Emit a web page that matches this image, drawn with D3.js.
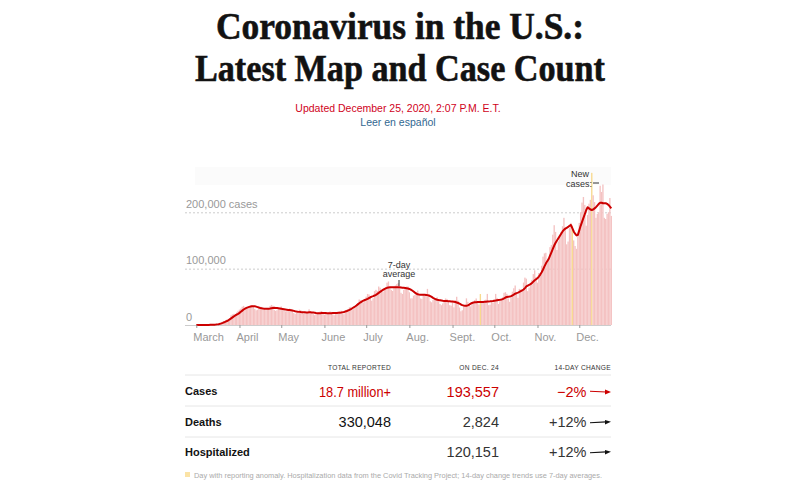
<html>
<head>
  <style>
    body { margin: 0; background: #fff; }
    svg text { font-family: "Liberation Sans", Arial, sans-serif; }
  </style>
  <script src="https://d3js.org/d3.v7.min.js"></script>
</head>
<body>
  <svg id="chart"></svg>
  <script type="text/javascript">
    // daily new cases, thousands, Mar 1 - Dec 24 2020
    var daily = [
      0,0,0,0,0.1,0.1,0.1, 0.1,0.2,0.3,0.4,0.5,0.6,0.7, 0.9,1.3,1.8,2.7,4.3,5.6,6.6,
      8.2,9.4,10.8,12.3,17.2,18.7,19.8, 19.9,22.1,25.1,
      27.3,29.1,32.4,33.9,28.8,30.1,31.2, 33.1,34.2,35.4,31.9,28.5,26.1,27.0,
      30.2,31.4,32.1,30.6,27.8,26.4,27.9, 29.3,33.8,35.6,34.2,26.5,25.2,26.3, 29.6,30.4,
      32.9,29.2,26.1,24.2,24.5,25.8,29.2, 27.5,25.4,21.2,19.4,22.0,22.5,27.1,
      26.4,24.2,20.1,21.9,21.3,23.0,27.9, 24.3,22.1,19.3,17.4,19.1,20.2,22.4, 24.1,24.9,21.3,
      18.4,20.1,20.3,22.0,24.1,23.2,19.1, 17.3,19.2,21.0,22.3,24.2,25.4,20.3,
      19.1,22.4,25.0,28.3,31.4,32.2,26.4, 28.1,34.0,37.2,39.1,45.3,44.0,41.2, 40.1,45.2,
      50.3,55.1,54.2,48.1,43.2,47.3,60.1, 62.4,60.2,68.3,66.1,60.2,58.4,65.3,
      67.2,75.1,77.3,66.2,62.1,60.4,67.2, 70.1,72.4,74.2,66.3,57.2,55.1,62.3, 67.1,68.2,68.4,
      58.1,47.2,47.3,52.1,53.2,58.3,61.1, 55.2,47.1,46.3,55.1,52.4,55.3,64.1,
      52.2,42.1,40.3,44.2,45.1,46.3,49.2, 45.1,37.2,35.1,38.3,44.2,47.1,46.3, 42.1,35.2,34.3,
      42.1,31.3,44.2,50.1,43.2,31.1,24.3, 26.2,33.1,35.2,47.3,41.1,35.2,33.1,
      38.2,40.1,44.3,47.1,42.2,36.1,55.0, 39.2,41.1,43.3,45.1,55.2,35.3,36.1, 40.2,39.3,
      45.1,55.2,48.1,37.3,42.2,45.1,49.3, 57.1,58.2,55.3,47.1,41.2,51.3,59.1,
      65.2,70.1,56.3,48.2,64.1,63.2,62.1, 75.3,84.1,82.2,60.1,66.3,74.2,80.1, 90.3,97.1,85.2,
      75.1,92.3,92.1,105.2,121.3,127.1,128.2, 110.1,118.3,138.2,142.1,160.3,177.1,165.2,
      133.1,148.3,158.2,165.1,175.3,190.2,173.1, 143.2,148.1,172.3,181.2,176.0,150.1,140.2, 135.2,160.3,
      181.2,200.1,217.3,227.2,213.1,176.2,195.1, 215.3,222.1,270.0,230.2,218.1,190.2,197.1,
      200.3,247.2,236.1,249.3,190.2,188.1,197.2, 200.1,225.3,193.6
    ]

    // 7-day average, thousands
    var avg = [
      0,0,0,0,0,0,0.1, 0.1,0.2,0.2,0.3,0.4,0.5,0.6, 0.8,1.1,1.5,2.1,2.9,3.8,4.8,
      5.9,7.1,8.4,10.0,11.8,13.6,15.3, 16.9,18.4,19.8,
      21.5,23.5,25.5,27.5,29.0,30.3,31.3, 32.2,32.8,33.3,33.4,33.2,32.6,31.8,
      31.0,30.3,29.7,29.3,29.0,28.8,28.7, 28.8,29.2,29.8,30.3,30.5,30.3,30.0, 29.6,29.2,
      28.8,28.4,28.0,27.6,27.2,26.8,26.5, 26.2,25.7,25.1,24.5,24.0,23.6,23.3,
      23.0,22.8,22.6,22.5,22.4,22.4,22.5, 22.5,22.3,22.0,21.6,21.2,20.9,20.8, 20.9,21.1,21.2,
      21.2,21.1,21.0,20.9,20.9,21.0,21.1, 21.2,21.3,21.4,21.6,21.8,22.1,22.5,
      23.1,23.9,24.8,25.8,27.0,28.3,29.7, 31.2,32.9,34.7,36.6,38.5,40.3,41.9, 43.2,44.3,
      45.3,46.5,47.9,49.2,50.3,51.2,52.3, 53.6,55.2,57.0,58.9,60.6,62.2,63.8,
      65.0,66.0,66.6,66.9,67.0,67.1,67.2, 67.2,67.1,67.0,66.8,66.5,66.2,66.0, 65.7,65.3,64.8,
      64.0,62.8,61.2,59.4,57.5,55.8,54.5, 53.9,53.6,53.5,53.6,53.6,53.4,53.0,
      52.3,51.2,49.8,48.2,46.8,45.6,44.8, 44.2,43.8,43.4,43.0,42.7,42.5,42.4, 42.3,42.1,41.9,
      41.6,41.2,40.7,40.0,39.0,37.8,36.4, 35.3,34.6,34.2,34.1,34.8,36.2,37.8,
      39.0,39.8,40.3,40.5,40.6,40.7,40.8, 40.9,41.0,41.2,41.4,41.6,41.8,42.0, 42.3,42.6,
      43.0,43.4,44.0,44.5,44.8,45.2,46.0, 47.3,48.7,49.6,50.2,50.6,51.3,52.4,
      54.0,55.5,56.6,57.5,58.7,60.0,61.3, 63.0,65.5,68.5,70.0,71.3,72.5,74.5, 77.0,79.5,81.3,
      83.0,86.0,89.5,93.5,98.5,104.0,109.0, 113.0,117.0,123.0,129.0,135.0,141.0,146.0,
      150.0,154.0,158.0,162.0,166.0,169.0,171.0, 172.5,174.0,176.0,177.5,172.0,166.0,162.0, 159.0,160.0,
      168.0,176.0,183.0,190.0,197.0,204.0,209.0, 207.0,205.0,204.0,205.0,207.0,209.0,212.0,
      215.0,217.0,217.0,216.0,216.0,216.0,215.0, 213.0,210.0,207.0
    ]

    // days with reporting anomaly
    var anomalies = ["2020-09-21", "2020-11-26", "2020-12-10"]

    var monthLabels = ["March", "April", "May", "June", "July", "Aug.", "Sept.", "Oct.", "Nov.", "Dec."]
    var yTicks = [0, 100000, 200000]

    var headers = ["TOTAL REPORTED", "ON DEC. 24", "14-DAY CHANGE"]
    var rowNames = ["Cases", "Deaths", "Hospitalized"]
    var totals = ["18.7 million+", "330,048", ""]
    var onDay = ["193,557", "2,824", "120,151"]
    var changes = ["\u22122%", "+12%", "+12%"]

    var w = 800
    var h = 488
    var red = "#cc0000"

    var svg = d3.select("#chart").attr("width", w).attr("height", h)

    // headline
    var title = svg.append("g")
    title.selectAll("text")
      .data([["Coronavirus in the U.S.:", 39.3, 368], ["Latest Map and Case Count", 81, 410]])
      .enter()
      .append("text")
      .text(function(d) { return d[0] })
      .attr("x", 400)
      .attr("y", function(d) { return d[1] })
      .attr("text-anchor", "middle")
      .attr("textLength", function(d) { return d[2] })
      .attr("lengthAdjust", "spacingAndGlyphs")
      .style("font-family", "'Liberation Serif', serif")
      .style("font-weight", "bold")
      .style("font-size", "38px")
      .style("fill", "#121212")
      .style("stroke", "#121212")
      .style("stroke-width", 0.6)

    svg.append("text")
      .text("Updated December 25, 2020, 2:07 P.M. E.T.")
      .attr("x", 398).attr("y", 112)
      .attr("text-anchor", "middle")
      .style("font-size", "10.5px")
      .style("fill", "#d0021b")

    svg.append("text")
      .text("Leer en español")
      .attr("x", 398).attr("y", 126)
      .attr("text-anchor", "middle")
      .style("font-size", "10.5px")
      .style("fill", "#326891")

    // chart
    var parse = d3.timeParse("%Y-%m-%d")
    var start = new Date(2020, 2, 1)
    var dates = daily.map(function(d, i) { return d3.timeDay.offset(start, i) })

    var x = d3.scaleTime()
      .domain([start, new Date(2020, 11, 24)])
      .range([196.3, 611.3])
    var y = d3.scaleLinear()
      .domain([0, 200000])
      .range([325, 212.3])

    svg.append("rect")
      .attr("x", 195).attr("y", 167)
      .attr("width", 416).attr("height", 18)
      .attr("fill", "#fbfbfb")

    var yAxis = d3.axisRight(y)
      .tickValues(yTicks)
      .tickSize(426)
      .tickFormat(function(d) { return d == 200000 ? "200,000 cases" : d3.format(",")(d) })

    var gy = svg.append("g")
      .attr("transform", "translate(185,0)")
      .call(yAxis)
    gy.select(".domain").remove()
    gy.selectAll("line")
      .attr("stroke", "#ccc")
      .attr("stroke-dasharray", function(d) { return d == 0 ? null : "2,2" })
    gy.selectAll("text")
      .attr("x", 1)
      .attr("dy", -5)
      .attr("text-anchor", "start")
      .style("font-size", "11px")
      .style("fill", "#999")

    // bars
    var isAnomaly = function(i) {
      return anomalies.some(function(a) { return +parse(a) == +dates[i] })
    }

    svg.append("g").selectAll("rect")
      .data(daily)
      .enter()
      .append("rect")
      .attr("x", function(d, i) { return x(dates[i]) - 0.7 })
      .attr("y", function(d) { return y(d * 1000) })
      .attr("width", 1.35)
      .attr("height", function(d) { return y(0) - y(d * 1000) })
      .attr("fill", function(d, i) { return isAnomaly(i) ? "#f8d98e" : "#f4c2c2" })

    var line = d3.line()
      .x(function(d, i) { return x(dates[i]) })
      .y(function(d) { return y(d * 1000) })

    svg.append("path")
      .datum(avg)
      .attr("d", line)
      .attr("fill", "none")
      .attr("stroke", red)
      .attr("stroke-width", 2)
      .attr("stroke-linejoin", "round")

    // x axis
    var months = d3.timeMonth.range(start, new Date(2020, 11, 2))
    var xAxis = d3.axisBottom(x)
      .tickValues(months)
      .tickSize(3)
      .tickFormat(function(d, i) { return monthLabels[i] })

    var gx = svg.append("g")
      .attr("transform", "translate(0,325)")
      .call(xAxis)
    gx.select(".domain").remove()
    gx.selectAll("line").attr("stroke", "#999")
    gx.selectAll("text")
      .attr("x", -3.5)
      .attr("y", 8)
      .attr("text-anchor", "start")
      .style("font-size", "11px")
      .style("fill", "#999")

    // annotations
    svg.append("g").selectAll("text")
      .data(["7-day", "average"])
      .enter()
      .append("text")
      .text(function(d) { return d })
      .attr("x", 399)
      .attr("y", function(d, i) { return 267.5 + i * 9.5 })
      .attr("text-anchor", "middle")
      .style("font-size", "9px")
      .style("fill", "#333")
    svg.append("line")
      .attr("x1", 399).attr("x2", 399)
      .attr("y1", 280).attr("y2", 286)
      .attr("stroke", "#333")

    svg.append("g").selectAll("text")
      .data(["New", "cases:"])
      .enter()
      .append("text")
      .text(function(d) { return d })
      .attr("x", function(d, i) { return i == 0 ? 589 : 592 })
      .attr("y", function(d, i) { return 177 + i * 9.5 })
      .attr("text-anchor", "end")
      .style("font-size", "9px")
      .style("fill", "#333")
    svg.append("line")
      .attr("x1", 593).attr("x2", 599)
      .attr("y1", 183).attr("y2", 183)
      .attr("stroke", "#333")

    // table
    var colX = [391, 499, 611]
    svg.append("g").selectAll("text")
      .data(headers)
      .enter()
      .append("text")
      .text(function(d) { return d })
      .attr("x", function(d, i) { return colX[i] })
      .attr("y", 370)
      .attr("text-anchor", "end")
      .style("font-size", "6.6px")
      .style("letter-spacing", "0.3px")
      .style("fill", "#333")

    svg.append("g").selectAll("line")
      .data([375, 406, 437])
      .enter()
      .append("line")
      .attr("x1", 185).attr("x2", 611)
      .attr("y1", function(d) { return d }).attr("y2", function(d) { return d })
      .attr("stroke", "#e6e6e6")

    var rowY = [391, 421.7, 451.7]
    var rows = svg.append("g").selectAll("g")
      .data(rowNames)
      .enter()
      .append("g")
      .attr("transform", function(d, i) { return "translate(0," + rowY[i] + ")" })

    rows.append("text")
      .text(function(d) { return d })
      .attr("x", 185).attr("y", 4)
      .style("font-size", "11px")
      .style("font-weight", "bold")
      .style("fill", "#121212")

    rows.append("text")
      .text(function(d, i) { return totals[i] })
      .attr("x", colX[0]).attr("y", 5.5)
      .attr("text-anchor", "end")
      .attr("textLength", function(d, i) { return i == 0 ? 72 : null })
      .attr("lengthAdjust", "spacingAndGlyphs")
      .style("font-size", "14.5px")
      .style("fill", function(d, i) { return i == 0 ? red : "#121212" })

    rows.append("text")
      .text(function(d, i) { return onDay[i] })
      .attr("x", colX[1]).attr("y", 5.5)
      .attr("text-anchor", "end")
      .style("font-size", "14.5px")
      .style("fill", function(d, i) { return i == 0 ? red : "#333" })

    rows.append("text")
      .text(function(d, i) { return changes[i] })
      .attr("x", 586.5).attr("y", 5.5)
      .attr("text-anchor", "end")
      .style("font-size", "14.5px")
      .style("fill", function(d, i) { return i == 0 ? red : "#333" })

    // trend arrows
    rows.append("path")
      .attr("d", function(d, i) { return i == 0 ? "M590,0.2L606,1" : "M590,1L606,0.2" })
      .attr("stroke", function(d, i) { return i == 0 ? red : "#121212" })
      .attr("stroke-width", 1.1)
      .attr("fill", "none")
    rows.append("path")
      .attr("d", function(d, i) { return i == 0 ? "M605,-1.6L611,1.1L605,3.4Z" : "M605,-1.8L611,0.1L605,2.7Z" })
      .attr("fill", function(d, i) { return i == 0 ? red : "#121212" })

    // footnote
    svg.append("rect")
      .attr("x", 185).attr("y", 472)
      .attr("width", 5).attr("height", 5)
      .attr("fill", "#fbe3a6")
    svg.append("text")
      .text("Day with reporting anomaly. Hospitalization data from the Covid Tracking Project; 14-day change trends use 7-day averages.")
      .attr("x", 194).attr("y", 477.5)
      .attr("textLength", 408)
      .attr("lengthAdjust", "spacingAndGlyphs")
      .style("font-size", "7.4px")
      .style("fill", "#aaa")
  </script>
</body>
</html>
